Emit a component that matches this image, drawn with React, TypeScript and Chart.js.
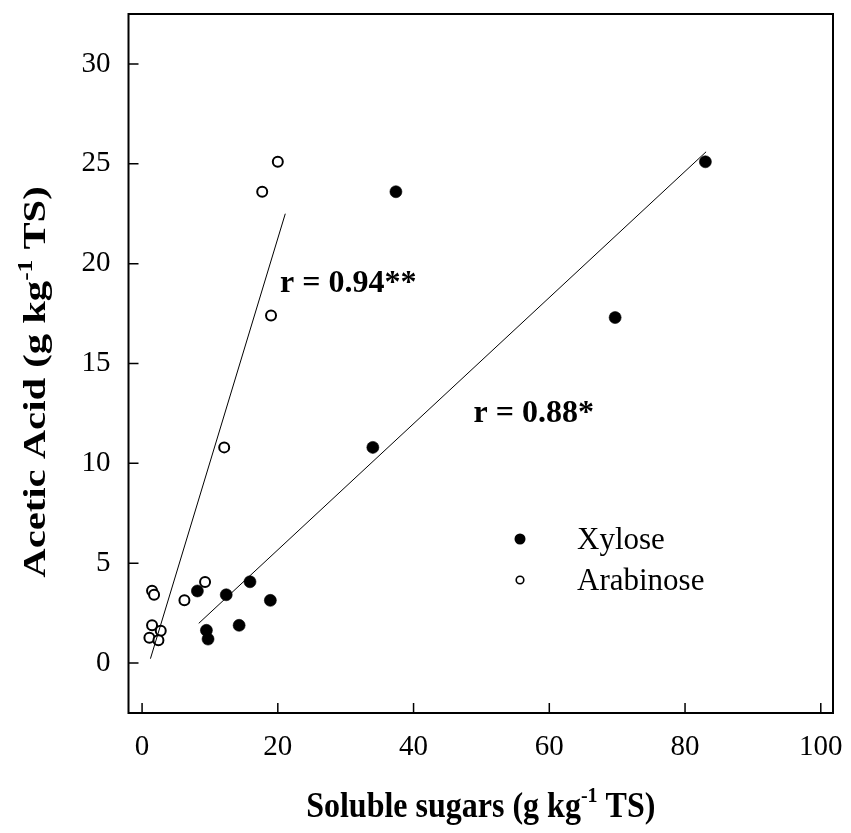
import React, { useEffect, useRef } from "react";
import { Chart, registerables } from "chart.js";

Chart.register(...registerables);

// ---- data ----
const xyloseX = [83.0, 37.4, 69.7, 34.0, 15.9, 8.15, 12.4, 18.9, 14.3, 9.48, 9.72];
const xyloseY = [25.1, 23.6, 17.3, 10.8, 4.07, 3.61, 3.42, 3.14, 1.89, 1.64, 1.2];
const arabinoseX = [20.0, 17.7, 19.0, 12.1, 9.28, 1.47, 1.77, 6.24, 1.47, 2.75, 1.08, 2.41];
const arabinoseY = [25.1, 23.6, 17.4, 10.8, 4.06, 3.62, 3.42, 3.14, 1.89, 1.62, 1.27, 1.14];

const xyloseFitX = [8.35, 83.1];
const xyloseFitY = [1.99, 25.6];
const arabinoseFitX = [1.23, 21.1];
const arabinoseFitY = [0.22, 22.5];

const xTicks = [0, 20, 40, 60, 80, 100];
const yTicks = [0, 5, 10, 15, 20, 25, 30];
const seriesLabels = ["Xylose", "Arabinose"];
const rLabels = ["r = 0.94**", "r = 0.88*"];
const xTitle = ["Soluble sugars (g kg", "-1", " TS)"];
const yTitle = ["Acetic Acid (g kg", "-1", " TS)"];

const FONT = "'Liberation Serif', 'Times New Roman', serif";

function drawSupTitle(ctx: CanvasRenderingContext2D, parts: string[], size: number) {
  const main = `bold ${size}px ${FONT}`;
  const sup = `bold ${Math.round(size * 0.62)}px ${FONT}`;
  ctx.font = main;
  const w0 = ctx.measureText(parts[0]).width;
  const w2 = ctx.measureText(parts[2]).width;
  ctx.font = sup;
  const w1 = ctx.measureText(parts[1]).width;
  const total = w0 + w1 + w2;
  let cx = -total / 2;
  ctx.textAlign = "left";
  ctx.textBaseline = "alphabetic";
  ctx.font = main;
  ctx.fillText(parts[0], cx, 0);
  cx += w0;
  ctx.font = sup;
  ctx.fillText(parts[1], cx, -size * 0.42);
  cx += w1;
  ctx.font = main;
  ctx.fillText(parts[2], cx, 0);
}

const decorPlugin = {
  id: "decor",
  afterDraw(chart: any) {
    const { ctx, chartArea: a, scales } = chart;
    const xs = scales.x;
    const ys = scales.y;
    ctx.save();
    ctx.strokeStyle = "#000";
    ctx.fillStyle = "#000";
    // frame
    ctx.lineWidth = 2;
    ctx.strokeRect(a.left, a.top, a.right - a.left, a.bottom - a.top);
    // inward ticks
    ctx.lineWidth = 1.5;
    ctx.beginPath();
    xTicks.forEach((v) => {
      const px = xs.getPixelForValue(v);
      ctx.moveTo(px, a.bottom);
      ctx.lineTo(px, a.bottom - 10);
    });
    yTicks.forEach((v) => {
      const py = ys.getPixelForValue(v);
      ctx.moveTo(a.left, py);
      ctx.lineTo(a.left + 10, py);
    });
    ctx.stroke();

    // axis titles
    ctx.save();
    ctx.translate((a.left + a.right) / 2, 817);
    ctx.scale(1, 1.1);
    drawSupTitle(ctx, xTitle, 32);
    ctx.restore();
    ctx.save();
    ctx.translate(45, 382);
    ctx.rotate(-Math.PI / 2);
    ctx.scale(1.27, 1);
    drawSupTitle(ctx, yTitle, 32);
    ctx.restore();

    // correlation labels
    ctx.font = `bold 32px ${FONT}`;
    ctx.textBaseline = "alphabetic";
    ctx.textAlign = "left";
    ctx.fillText(rLabels[0], 280, 292);
    ctx.textAlign = "right";
    ctx.fillText(rLabels[1], 594, 422);

    // legend
    ctx.textAlign = "left";
    ctx.textBaseline = "middle";
    ctx.font = `31px ${FONT}`;
    ctx.beginPath();
    ctx.arc(520, 539, 5.5, 0, Math.PI * 2);
    ctx.fill();
    ctx.fillText(seriesLabels[0], 577, 541);
    ctx.beginPath();
    ctx.lineWidth = 1.6;
    ctx.arc(520, 580, 3.8, 0, Math.PI * 2);
    ctx.fillStyle = "#fff";
    ctx.fill();
    ctx.stroke();
    ctx.fillStyle = "#000";
    ctx.fillText(seriesLabels[1], 577, 582);
    ctx.restore();
  },
};

const zeroPad = (s: any) => {
  s.paddingTop = 0;
  s.paddingBottom = 0;
  s.paddingLeft = 0;
  s.paddingRight = 0;
};

export default function App() {
  const ref = useRef<HTMLCanvasElement>(null);
  useEffect(() => {
    if (!ref.current) return;
    const chart = new Chart(ref.current, {
      type: "scatter",
      data: {
        datasets: [
          {
            label: "Xylose fit",
            data: xyloseFitX.map((x, i) => ({ x, y: xyloseFitY[i] })),
            showLine: true,
            borderColor: "#000",
            borderWidth: 1,
            pointRadius: 0,
            fill: false,
          },
          {
            label: "Arabinose fit",
            data: arabinoseFitX.map((x, i) => ({ x, y: arabinoseFitY[i] })),
            showLine: true,
            borderColor: "#000",
            borderWidth: 1,
            pointRadius: 0,
            fill: false,
          },
          {
            label: seriesLabels[0],
            data: xyloseX.map((x, i) => ({ x, y: xyloseY[i] })),
            pointRadius: 6,
            pointBackgroundColor: "#000",
            pointBorderColor: "#000",
            pointBorderWidth: 0.6,
          },
          {
            label: seriesLabels[1],
            data: arabinoseX.map((x, i) => ({ x, y: arabinoseY[i] })),
            pointRadius: 5,
            pointBackgroundColor: "#fff",
            pointBorderColor: "#000",
            pointBorderWidth: 2,
          },
        ],
      },
      options: {
        animation: false,
        responsive: false,
        devicePixelRatio: 1,
        layout: { padding: { top: 14, right: 18, left: 0, bottom: 0 } },
        plugins: { legend: { display: false }, tooltip: { enabled: false } },
        scales: {
          x: {
            type: "linear",
            min: -2,
            max: 101.8,
            afterBuildTicks: (s: any) => {
              s.ticks = xTicks.map((v) => ({ value: v }));
            },
            afterFit: (s: any) => {
              s.height = 120;
              zeroPad(s);
            },
            grid: { display: false, drawTicks: false },
            border: { display: false },
            ticks: {
              color: "#000",
              font: { family: FONT, size: 29 },
              padding: 17,
              maxRotation: 0,
              autoSkip: false,
            },
          },
          y: {
            type: "linear",
            min: -2.5,
            max: 32.5,
            afterBuildTicks: (s: any) => {
              s.ticks = yTicks.map((v) => ({ value: v }));
            },
            afterFit: (s: any) => {
              s.width = 128.5;
              zeroPad(s);
            },
            grid: { display: false, drawTicks: false },
            border: { display: false },
            ticks: {
              color: "#000",
              font: { family: FONT, size: 29 },
              padding: 18,
              autoSkip: false,
            },
          },
        },
      },
      plugins: [decorPlugin],
    });
    return () => chart.destroy();
  }, []);
  return (
    <div style={{ position: "absolute", left: 0, top: 0, width: 851, height: 833, background: "#fff" }}>
      <canvas ref={ref} width={851} height={833} style={{ display: "block" }} />
    </div>
  );
}
